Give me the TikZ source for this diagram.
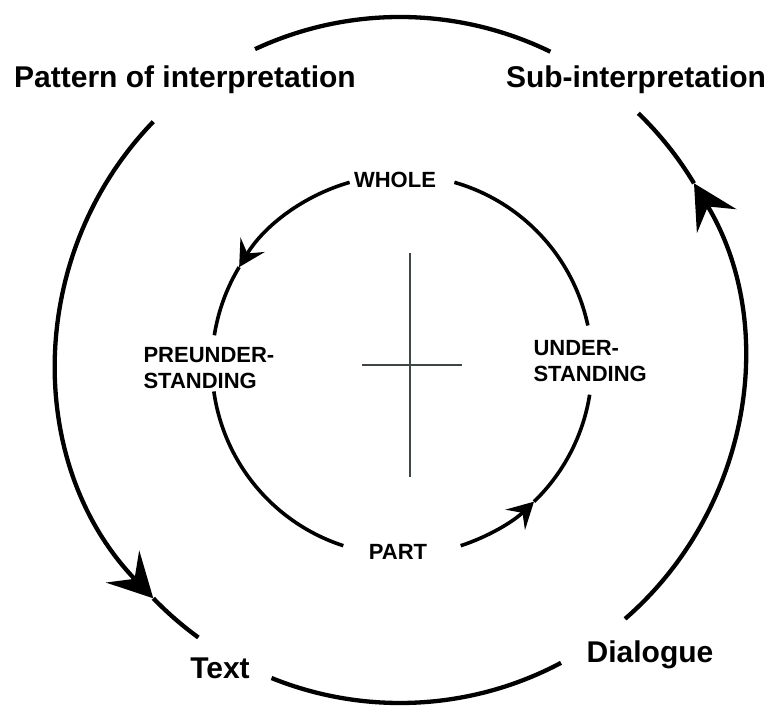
\documentclass[tikz,border=0pt]{standalone}
\usepackage{fontspec}
\setmainfont{Liberation Sans}
\usetikzlibrary{arrows.meta}
\definecolor{crossgray}{RGB}{62,72,68}

\begin{document}
\begin{tikzpicture}[x=1pt,y=1pt]
        \tikzstyle{big}=[font=\fontsize{30}{32}\selectfont\bfseries]
        \tikzstyle{small}=[font=\fontsize{22}{26}\selectfont\bfseries,align=left]
        \tikzstyle{outerarc}=[line width=4.3pt]
        \tikzstyle{innerarc}=[line width=3.6pt]
        \tikzstyle{bigtip}=[-{Stealth[length=44pt,width=46pt,inset=17pt]}]
        \tikzstyle{smalltip}=[-{Stealth[length=26pt,width=28pt,inset=10pt]}]
        \useasboundingbox (0,0) rectangle (769,706);
        \coordinate (outer) at (400,346);
        \coordinate (inner) at (402,341);
        % labels
        \node[big] (pattern) at (185,626) {Pattern of interpretation};
        \node[big] (sub) at (636,626) {Sub-interpretation};
        \node[big] (text) at (220,38) {Text};
        \node[big] (dialogue) at (650,51) {Dialogue};
        \node[small] (whole) at (395,526) {WHOLE};
        \node[small] (part) at (398,154) {PART};
        \node[small,anchor=west] (pre) at (140,338) {PREUNDER-\\STANDING};
        \node[small,anchor=west] (under) at (530,345) {UNDER-\\STANDING};
        % outer ring
        \draw[outerarc] ([shift={(64:343pt)}]outer) arc[start angle=64,end angle=115,radius=343pt];
        \draw[outerarc,bigtip] ([shift={(136:343pt)}]outer) arc[start angle=136,end angle=224,radius=343pt];
        \draw[outerarc] ([shift={(224:343pt)}]outer) arc[start angle=224,end angle=234,radius=343pt];
        \draw[outerarc] ([shift={(248:343pt)}]outer) arc[start angle=248,end angle=298,radius=343pt];
        \draw[outerarc,bigtip] ([shift={(311:343pt)}]outer) arc[start angle=311,end angle=391,radius=343pt];
        \draw[outerarc] ([shift={(391:343pt)}]outer) arc[start angle=391,end angle=406,radius=343pt];
        % inner ring
        \draw[innerarc] ([shift={(12:190pt)}]inner) arc[start angle=12,end angle=74,radius=190pt];
        \draw[innerarc,smalltip] ([shift={(106:190pt)}]inner) arc[start angle=106,end angle=149,radius=190pt];
        \draw[innerarc] ([shift={(149:190pt)}]inner) arc[start angle=149,end angle=171,radius=190pt];
        \draw[innerarc] ([shift={(188:190pt)}]inner) arc[start angle=188,end angle=252,radius=190pt];
        \draw[innerarc,smalltip] ([shift={(288:190pt)}]inner) arc[start angle=288,end angle=314,radius=190pt];
        \draw[innerarc] ([shift={(314:190pt)}]inner) arc[start angle=314,end angle=351,radius=190pt];
        % cross
        \draw[crossgray,line width=2.2pt] (410,453) -- (410,229);
        \draw[crossgray,line width=2.2pt] (362,341) -- (462,341);
\end{tikzpicture}
\end{document}
